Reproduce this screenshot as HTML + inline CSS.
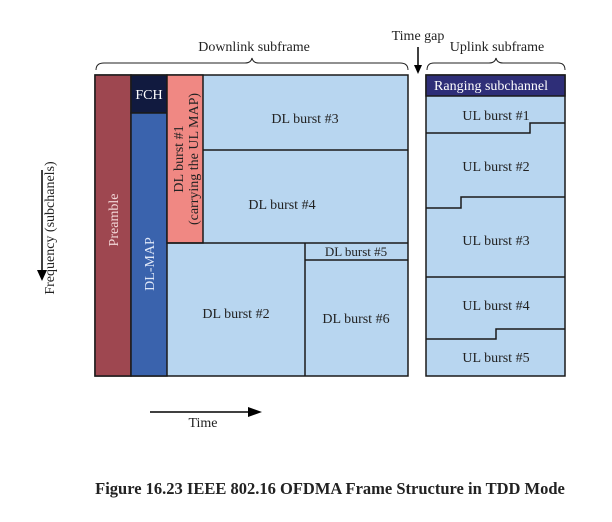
<!DOCTYPE html>
<html><head><style>body{margin:0;background:#fff}svg{display:block}text{font-family:"Liberation Serif",serif}</style></head>
<body>
<svg width="612" height="522" viewBox="0 0 612 522" xmlns="http://www.w3.org/2000/svg">
<g stroke="#1a1a1a" stroke-width="1.5">
<rect x="95" y="75" width="313" height="301" fill="#b8d6f0"/>
<rect x="95" y="75" width="36" height="301" fill="#9e4750"/>
<rect x="131" y="75" width="36" height="38" fill="#111a3f"/>
<rect x="131" y="113" width="36" height="263" fill="#3a63ad"/>
<rect x="167" y="75" width="36" height="168" fill="#f08883"/>
<line x1="203" y1="150" x2="408" y2="150"/>
<line x1="167" y1="243" x2="408" y2="243"/>
<line x1="305" y1="243" x2="305" y2="376"/>
<line x1="305" y1="260" x2="408" y2="260"/>
<rect x="426" y="75" width="139" height="301" fill="#b8d6f0"/>
<rect x="426" y="75" width="139" height="21" fill="#2e2e78"/>
<polyline fill="none" points="426,133 530,133 530,123 565,123"/>
<polyline fill="none" points="426,208 461,208 461,197 565,197"/>
<line x1="426" y1="277" x2="565" y2="277"/>
<polyline fill="none" points="426,339 496,339 496,329 565,329"/>
</g>
<g font-size="14" fill="#222" text-anchor="middle">
<text x="305" y="123">DL burst #3</text>
<text x="282" y="209">DL burst #4</text>
<text x="356" y="256" font-size="13">DL burst #5</text>
<text x="236" y="318">DL burst #2</text>
<text x="356" y="323">DL burst #6</text>
<text x="149" y="99" fill="#fff">FCH</text>
<text transform="translate(118,220) rotate(-90)" fill="#f3d8d8">Preamble</text>
<text transform="translate(154,264) rotate(-90)" fill="#e0e8f8">DL-MAP</text>
<text transform="translate(183,159) rotate(-90)">DL burst #1</text>
<text transform="translate(198,159) rotate(-90)">(carrying the UL MAP)</text>
<text x="491" y="90" fill="#fff">Ranging subchannel</text>
<text x="496" y="120">UL burst #1</text>
<text x="496" y="171">UL burst #2</text>
<text x="496" y="245">UL burst #3</text>
<text x="496" y="310">UL burst #4</text>
<text x="496" y="362">UL burst #5</text>
<text x="254" y="51">Downlink subframe</text>
<text x="418" y="40">Time gap</text>
<text x="497" y="51">Uplink subframe</text>
<text x="203" y="427">Time</text>
<text transform="translate(54,228) rotate(-90)">Frequency (subchanels)</text>
<text x="330" y="494" font-weight="bold" font-size="16.5">Figure 16.23  IEEE 802.16 OFDMA Frame Structure in TDD Mode</text>
</g>
<g fill="none" stroke="#222" stroke-width="1">
<path d="M96,70 Q96,63 104,63 L245,63 Q251,63 252,58 Q253,63 259,63 L400,63 Q408,63 408,70"/>
<path d="M427,70 Q427,63 434,63 L489,63 Q495,63 496,58 Q497,63 503,63 L558,63 Q565,63 565,70"/>
</g>
<g stroke="#000" stroke-width="1.5">
<line x1="418" y1="47" x2="418" y2="66"/>
<line x1="42" y1="170" x2="42" y2="272"/>
<line x1="150" y1="412" x2="250" y2="412"/>
</g>
<polygon points="414,65 422,65 418,74" fill="#000"/>
<polygon points="37,270 47,270 42,281" fill="#000"/>
<polygon points="248,407 248,417 262,412" fill="#000"/>
</svg>
</body></html>
